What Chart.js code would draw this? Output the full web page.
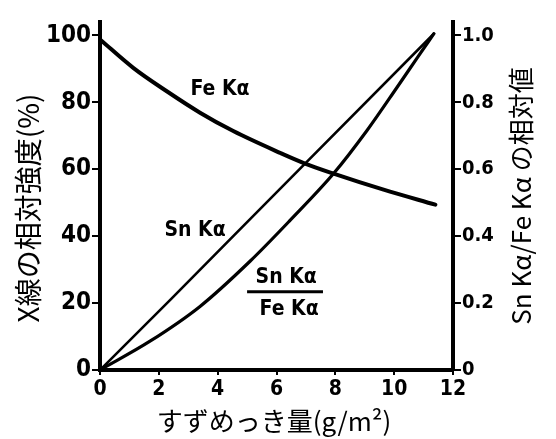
<!DOCTYPE html>
<html>
<head>
<meta charset="utf-8">
<script src="https://cdn.jsdelivr.net/npm/chart.js@4.4.1/dist/chart.umd.min.js"></script>
<style>
  html, body { margin: 0; padding: 0; background: #fff; }
  #wrap { width: 556px; height: 439px; }
</style>
</head>
<body>
<div id="wrap"><canvas id="c" width="556" height="439"></canvas></div>
<script>
// ---- data ----
const xTicks = [0, 2, 4, 6, 8, 10, 12];
const leftTicks = [0, 20, 40, 60, 80, 100];
const rightTickLabels = ['0', '0.2', '0.4', '0.6', '0.8', '1.0'];

const feX = [0, 1.13, 2.27, 3.4, 4.53, 6.12, 6.97, 7.94, 9.64, 11.4];
const feY = [98.8, 90.3, 83.3, 76.9, 71.4, 64.9, 61.7, 58.7, 53.9, 49.4];

const snX = [0, 2.38, 4.53, 6.97, 11.35];
const snY = [0, 20.9, 40.0, 61.7, 100.5];

const ratioX = [0, 1.7, 3.4, 5.1, 6.46, 7.94, 9.07, 10.1, 10.8, 11.35];
const ratioY = [0, 0.086, 0.19, 0.325, 0.447, 0.587, 0.715, 0.845, 0.935, 1.005];

const xTitle = 'すずめっき量(g/m²)';
const leftTitle = 'X線の相対強度(%)';
const rightTitle = 'Sn Kα/Fe Kα の相対値';
const labelFe = 'Fe Kα';
const labelSn = 'Sn Kα';
const fracTop = 'Sn Kα';
const fracBottom = 'Fe Kα';

const toPts = (xs, ys) => xs.map((x, i) => ({ x: x, y: ys[i] }));

const DIGIT_FONT = '"Liberation Sans Narrow", "DejaVu Sans Condensed", "Noto Sans", sans-serif';
const CJK_FONT = '"Noto Sans CJK JP", "Noto Sans", sans-serif';

const textPlugin = {
  id: 'texts',
  afterDraw(chart) {
    const ctx = chart.ctx;
    const xs = chart.scales.x, ys = chart.scales.y;
    ctx.save();
    ctx.fillStyle = '#000';
    ctx.strokeStyle = '#000';
    ctx.textAlign = 'center';
    ctx.textBaseline = 'middle';

    // x title
    ctx.font = '26px ' + CJK_FONT;
    ctx.fillText(xTitle, 274, 421);

    // left title (rotated CCW)
    ctx.save();
    ctx.translate(28, 208);
    ctx.rotate(-Math.PI / 2);
    ctx.font = '28px ' + CJK_FONT;
    ctx.fillText(leftTitle, 0, 0);
    ctx.restore();

    // right title (rotated CCW)
    ctx.save();
    ctx.translate(521, 196);
    ctx.rotate(-Math.PI / 2);
    ctx.font = '26px ' + CJK_FONT;
    ctx.fillText(rightTitle, 0, 0);
    ctx.restore();

    // curve labels
    ctx.font = 'bold 21px ' + DIGIT_FONT;
    ctx.fillText(labelFe, xs.getPixelForValue(4.08), ys.getPixelForValue(83.8));
    ctx.fillText(labelSn, xs.getPixelForValue(3.23), ys.getPixelForValue(41.6));
    ctx.fillText(fracTop, xs.getPixelForValue(6.33), ys.getPixelForValue(27.6));
    ctx.fillText(fracBottom, xs.getPixelForValue(6.43), ys.getPixelForValue(18.0));
    ctx.lineWidth = 3;
    ctx.beginPath();
    ctx.moveTo(xs.getPixelForValue(5.0), ys.getPixelForValue(23.4));
    ctx.lineTo(xs.getPixelForValue(7.58), ys.getPixelForValue(23.4));
    ctx.stroke();
    ctx.restore();
  }
};

const tickFont = { family: DIGIT_FONT, size: 24, weight: 'bold' };

new Chart(document.getElementById('c'), {
  type: 'scatter',
  data: {
    datasets: [
      { label: labelFe, data: toPts(feX, feY), yAxisID: 'y', showLine: true,
        borderColor: '#000', borderWidth: 4, pointRadius: 0, cubicInterpolationMode: 'monotone', borderCapStyle: 'round' },
      { label: labelSn, data: toPts(snX, snY), yAxisID: 'y', showLine: true,
        borderColor: '#000', borderWidth: 2.6, pointRadius: 0, tension: 0, borderCapStyle: 'round' },
      { label: fracTop + '/' + fracBottom, data: toPts(ratioX, ratioY), yAxisID: 'y1', showLine: true,
        borderColor: '#000', borderWidth: 3.2, pointRadius: 0, cubicInterpolationMode: 'monotone', borderCapStyle: 'round' }
    ]
  },
  options: {
    responsive: false,
    animation: false,
    layout: { padding: { top: 22, left: 0, right: 0, bottom: 0 } },
    plugins: { legend: { display: false }, tooltip: { enabled: false } },
    scales: {
      x: {
        type: 'linear', min: 0, max: 12,
        afterBuildTicks: s => { s.ticks = xTicks.map(v => ({ value: v })); },
        afterFit: s => { s.height = 69; },
        border: { display: true, color: '#000', width: 4 },
        grid: { drawOnChartArea: false, color: '#000', tickLength: 5, lineWidth: 2 },
        ticks: { color: '#000', padding: 2, font: { family: DIGIT_FONT, size: 21, weight: 'bold' }, maxRotation: 0 }
      },
      y: {
        type: 'linear', position: 'left', min: 0, max: 104,
        afterBuildTicks: s => { s.ticks = leftTicks.map(v => ({ value: v })); },
        afterFit: s => { s.width = 100; },
        border: { display: true, color: '#000', width: 4 },
        grid: { drawOnChartArea: false, color: '#000', tickLength: 8, lineWidth: 2 },
        ticks: { color: '#000', padding: 1, font: tickFont }
      },
      y1: {
        type: 'linear', position: 'right', min: 0, max: 1.04,
        afterBuildTicks: s => { s.ticks = rightTickLabels.map(v => ({ value: parseFloat(v) })); },
        afterFit: s => { s.width = 103; },
        border: { display: true, color: '#000', width: 4 },
        grid: { drawOnChartArea: false, color: '#000', tickLength: 8, lineWidth: 2 },
        ticks: { color: '#000', padding: 1, font: { family: DIGIT_FONT, size: 20, weight: 'bold' },
          callback: (v) => { const i = rightTickLabels.findIndex(t => Math.abs(parseFloat(t) - v) < 1e-6); return i >= 0 ? rightTickLabels[i] : ''; } }
      }
    }
  },
  plugins: [textPlugin]
});
</script>
</body>
</html>
